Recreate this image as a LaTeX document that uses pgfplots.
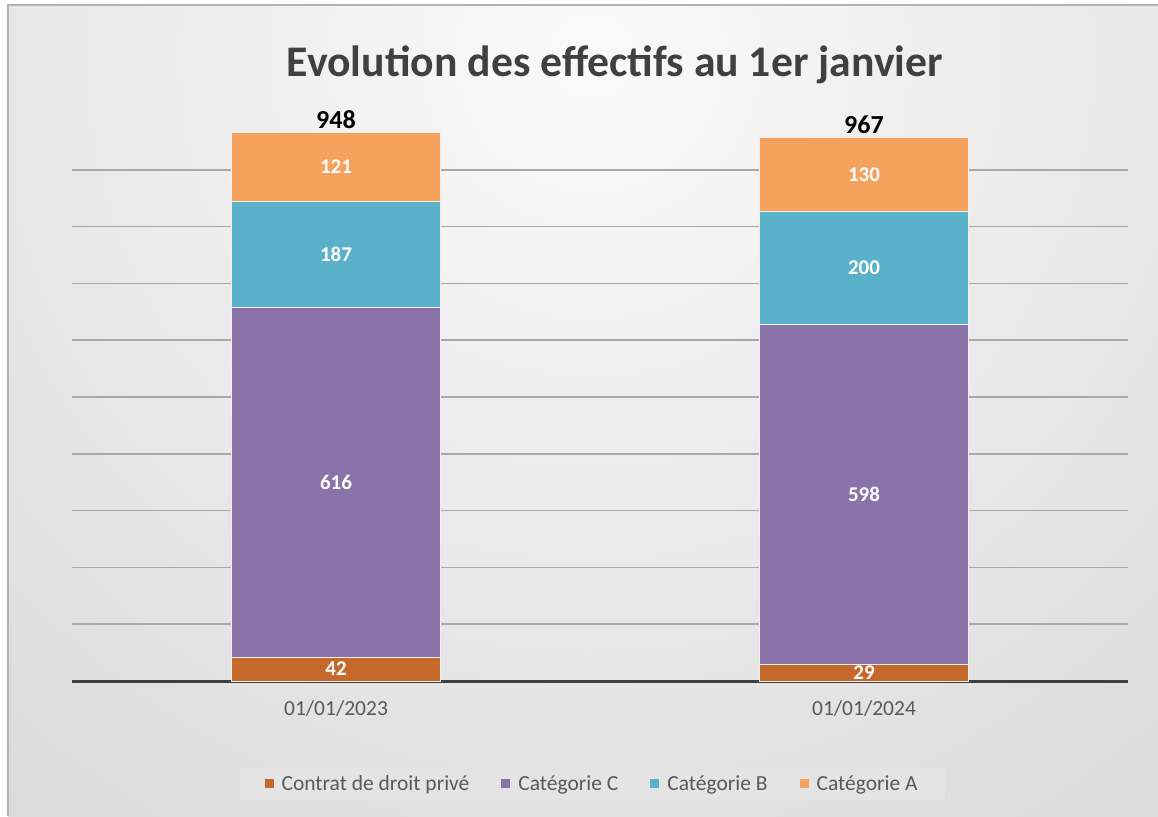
\documentclass[border=0pt]{standalone}
\usepackage{fontspec}
\setmainfont{Carlito}
\usepackage{pgfplots}
\pgfplotsset{compat=1.18}
\definecolor{cPriv}{HTML}{C4692B}
\definecolor{cC}{HTML}{8B73AA}
\definecolor{cB}{HTML}{5AB2CA}
\definecolor{cA}{HTML}{F5A25E}
\definecolor{bgA}{HTML}{FAFAFA}
\definecolor{bgB}{HTML}{BEBEBE}
\definecolor{gridc}{HTML}{A8A8A8}
\definecolor{legbg}{HTML}{E4E4E4}
\definecolor{tickc}{HTML}{595959}
\definecolor{titlec}{HTML}{404040}
\definecolor{edgec}{HTML}{F4EEE6}
\pgfdeclareradialshading{bgshade}{\pgfpoint{0bp}{0bp}}{color(0bp)=(bgA); color(46bp)=(bgB); color(50bp)=(bgB)}
\begin{document}
\begin{tikzpicture}[x=1pt,y=1pt]
\fill[white] (0,0) rectangle (1158,816);
\begin{scope}
\clip (8,0) rectangle (1158,811);
\shade[shading=bgshade] (590,760) circle (1000);
\end{scope}
\draw[line width=1.5pt, color=black!30] (8,0) -- (8,811) -- (1158,811);
\node[font=\bfseries\fontsize{43.7}{50}\selectfont, text=titlec, anchor=base] at (615,739) {Evolution des effectifs au 1er janvier};
\begin{axis}[
  at={(72pt,135pt)}, anchor=south west,
  scale only axis, width=1056pt, height=568pt,
  xmin=-0.5, xmax=1.5, ymin=0, ymax=1000,
  clip=false,
  ybar stacked, bar width=209pt,
  axis line style={draw=none},
  major tick length=0pt,
  /pgf/number format/assume math mode=true,
  xtick={0,1}, xticklabels={01/01/2023,01/01/2024},
  xticklabel style={font=\fontsize{21.5}{26}\selectfont, text=tickc, yshift=-16pt},
  ytick={100,200,...,900}, yticklabels={},
  ymajorgrids, grid style={draw=gridc, line width=1.5pt},
  extra y ticks={0}, extra y tick labels={},
  extra y tick style={grid style={draw=black!75, line width=3pt}},
  every axis plot/.append style={draw=edgec, line width=1pt},
  nodes near coords,
  every node near coord/.append style={font=\bfseries\fontsize{21}{25}\selectfont, text=white, anchor=center},
  legend columns=4,
  legend style={at={(0.4925,-0.1813)}, anchor=center, draw=none, fill=legbg,
    font=\fontsize{21.5}{25}\selectfont, text=tickc, inner xsep=25pt, inner ysep=6pt,
    /tikz/every odd column/.append style={column sep=6pt},
    /tikz/every even column/.append style={column sep=30pt}},
  legend image code/.code={\path[#1, draw=none] (0pt,-4.5pt) rectangle (9pt,4.5pt);},
]
\addplot[fill=cPriv] coordinates {(0,42) (1,29)};
\addplot[fill=cC] coordinates {(0,616) (1,598)};
\addplot[fill=cB] coordinates {(0,187) (1,200)};
\addplot[fill=cA] coordinates {(0,121) (1,130)};
\legend{Contrat de droit privé, Catégorie C, Catégorie B, Catégorie A}
\node[font=\bfseries\fontsize{26}{30}\selectfont, text=black, anchor=south] at (axis cs:0,966) {948};
\node[font=\bfseries\fontsize{26}{30}\selectfont, text=black, anchor=south] at (axis cs:1,957) {967};
\end{axis}
\pgfresetboundingbox
\useasboundingbox (0,0) rectangle (1158,816);
\end{tikzpicture}
\end{document}
